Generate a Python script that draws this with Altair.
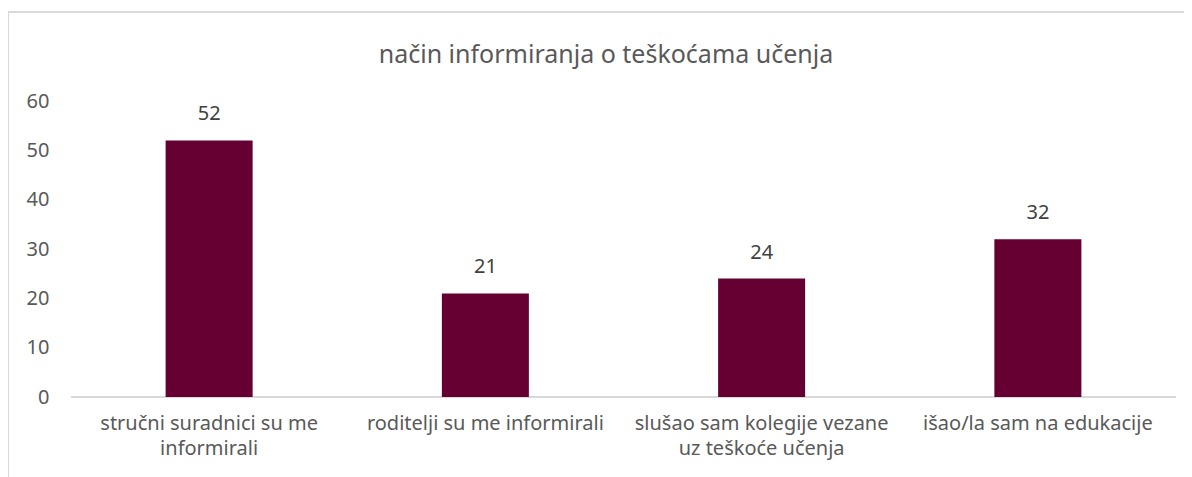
import altair as alt
import pandas as pd

categories = [
    "stručni suradnici su me informirali",
    "roditelji su me informirali",
    "slušao sam kolegije vezane uz teškoće učenja",
    "išao/la sam na edukacije",
]
label_lines = [
    ["stručni suradnici su me", "informirali"],
    ["roditelji su me informirali"],
    ["slušao sam kolegije vezane", "uz teškoće učenja"],
    ["išao/la sam na edukacije"],
]
values = [52, 21, 24, 32]
y_ticks = [0, 10, 20, 30, 40, 50, 60]
title = "način informiranja o teškoćama učenja"

df = pd.DataFrame({"cat": categories, "val": values})
title_df = pd.DataFrame({"t": [title]})

expr = "''"
for c, lines in reversed(list(zip(categories, label_lines))):
    arr = "[" + ",".join("'" + l + "'" for l in lines) + "]"
    expr = f"datum.label == '{c}' ? {arr} : {expr}"

FONT = "Noto Sans"
TXT = "#595959"
FS = 20

x = alt.X(
    "cat:N",
    sort=categories,
    scale=alt.Scale(paddingInner=0.685, paddingOuter=0.3425),
    axis=alt.Axis(
        title=None,
        labelAngle=0,
        labelExpr=expr,
        labelFont=FONT,
        labelFontSize=FS,
        labelColor=TXT,
        labelLineHeight=25,
        labelPadding=16,
        ticks=False,
        domain=False,
        labelLimit=400,
    ),
)
y = alt.Y(
    "val:Q",
    scale=alt.Scale(domain=[0, 60]),
    axis=alt.Axis(
        title=None,
        values=y_ticks,
        labelFont=FONT,
        labelFontSize=FS,
        labelColor=TXT,
        labelPadding=22,
        ticks=False,
        domain=False,
        gridColor="#d9d9d9",
        gridWidth=1.3,
    ),
)

bars = alt.Chart(df).mark_bar(color="#660033").encode(x=x, y=y)
text = alt.Chart(df).mark_text(
    dy=-26, font=FONT, fontSize=FS, color="#404040"
).encode(x=alt.X("cat:N", sort=categories), y="val:Q", text="val:Q")

baseline = alt.Chart(df).mark_rule(color="#d9d9d9", strokeWidth=1.3).encode(
    y=alt.datum(0)
)

title_mark = alt.Chart(title_df).mark_text(
    font=FONT, fontSize=25, color=TXT, baseline="middle", align="center"
).encode(x=alt.value(535), y=alt.value(-46), text="t:N")

border_left = alt.Chart(df).mark_rule(color="#d9d9d9", strokeWidth=1.5).encode(
    x=alt.value(-63), y=alt.value(-89), y2=alt.value(400)
)
border_top = alt.Chart(df).mark_rule(color="#d9d9d9", strokeWidth=1.5).encode(
    x=alt.value(-63), x2=alt.value(1200), y=alt.value(-89)
)

chart = (
    alt.layer(border_left, border_top, baseline, bars, text, title_mark)
    .properties(
        width=1105,
        height=296,
        padding={"left": 63, "top": 93, "right": 8, "bottom": 80},
        autosize=alt.AutoSizeParams(type="none"),
    )
    .configure_view(stroke=None)
)

chart.save("out.html", embed_options={"renderer": "svg", "actions": False})
